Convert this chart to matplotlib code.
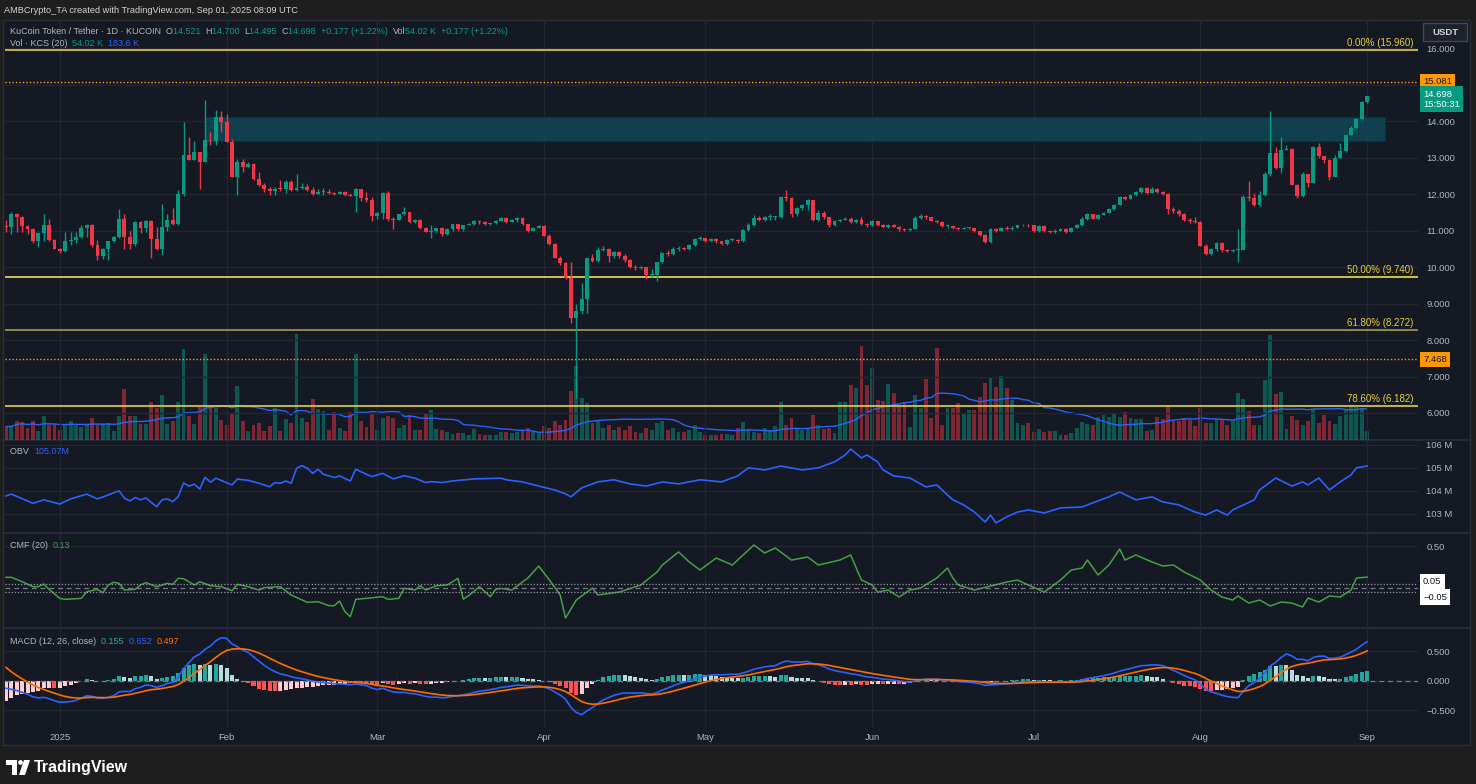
import numpy as np
import pandas as pd
import matplotlib
matplotlib.use('Agg')
import matplotlib.pyplot as plt
import matplotlib.dates as mdates
from matplotlib.patches import Rectangle, Polygon, Circle

plt.rcParams['font.family'] = ['Liberation Sans', 'DejaVu Sans']

# ---------------- data ----------------
dates = pd.date_range('2024-12-22', '2025-09-01', freq='D')
first_open = 11.12
closes = [
    11.10, 11.45, 11.36, 11.13, 11.04, 10.72, 10.92, 11.16, 10.75, 10.50,
    10.44, 10.72, 10.74, 10.81, 11.07, 11.16, 10.60, 10.31, 10.49, 10.71,
    10.81, 11.33, 10.81, 10.63, 11.23, 11.07, 11.27, 10.78, 10.49, 11.09,
    11.29, 11.18, 12.00, 13.07, 12.93, 13.14, 12.87, 13.48, 13.46, 14.12,
    13.98, 13.43, 12.48, 12.87, 12.75, 12.82, 12.40, 12.25, 12.13, 12.09,
    12.15, 12.13, 12.32, 12.11, 12.17, 12.19, 12.11, 12.00, 12.07, 12.07,
    12.03, 12.00, 12.06, 11.98, 11.96, 12.14, 11.90, 11.84, 11.40, 11.49,
    12.02, 11.31, 11.30, 11.45, 11.50, 11.24, 11.30, 11.07, 10.97, 10.98,
    11.06, 10.90, 11.03, 11.17, 11.03, 11.15, 11.17, 11.27, 11.24, 11.17,
    11.21, 11.26, 11.34, 11.23, 11.30, 11.34, 11.17, 11.00, 11.08, 11.13,
    10.86, 10.63, 10.26, 10.10, 9.69, 8.60, 8.80, 9.12, 10.24, 10.17,
    10.46, 10.50, 10.29, 10.40, 10.29, 10.19, 10.00, 9.97, 10.00, 9.78,
    9.78, 10.13, 10.38, 10.36, 10.50, 10.52, 10.49, 10.60, 10.76, 10.79,
    10.72, 10.77, 10.70, 10.64, 10.74, 10.75, 10.70, 11.02, 11.15, 11.35,
    11.28, 11.36, 11.37, 11.38, 11.91, 11.90, 11.44, 11.62, 11.70, 11.84,
    11.29, 11.49, 11.36, 11.15, 11.26, 11.30, 11.33, 11.24, 11.30, 11.18,
    11.14, 11.25, 11.15, 11.10, 11.16, 11.11, 11.03, 11.02, 11.05, 11.35,
    11.40, 11.36, 11.27, 11.23, 11.12, 11.13, 11.08, 11.05, 11.07, 11.07,
    10.98, 10.88, 10.68, 11.05, 10.99, 11.07, 11.04, 11.08, 11.14, 11.15,
    11.14, 10.99, 11.13, 10.99, 10.95, 11.00, 11.05, 10.96, 11.08, 11.15,
    11.33, 11.44, 11.33, 11.43, 11.49, 11.59, 11.71, 11.91, 11.87, 11.98,
    12.06, 12.16, 12.03, 12.14, 12.06, 12.00, 11.59, 11.54, 11.45, 11.29,
    11.27, 11.24, 10.58, 10.36, 10.49, 10.66, 10.46, 10.44, 10.46, 10.48,
    11.93, 11.90, 11.70, 11.97, 12.55, 13.12, 12.72, 13.21, 13.24, 12.25,
    11.94, 12.54, 12.31, 13.30, 13.04, 12.93, 12.48, 12.98, 13.18, 13.62,
    13.82, 14.07, 14.521, 14.698,
]
highs = [
    11.28, 11.52, 11.48, 11.40, 11.15, 11.06, 10.97, 11.45, 11.33, 10.78,
    10.52, 10.97, 10.97, 10.97, 11.15, 11.17, 11.18, 10.74, 10.52, 10.72,
    10.85, 11.60, 11.45, 11.00, 11.25, 11.25, 11.29, 11.29, 11.09, 11.73,
    11.45, 11.61, 12.11, 13.98, 13.57, 13.46, 13.15, 14.58, 13.71, 14.30,
    14.28, 14.19, 13.52, 12.95, 12.95, 12.87, 12.86, 12.61, 12.29, 12.20,
    12.18, 12.38, 12.38, 12.38, 12.55, 12.29, 12.27, 12.20, 12.14, 12.17,
    12.14, 12.06, 12.08, 12.08, 12.02, 12.17, 12.14, 12.07, 11.93, 11.52,
    12.06, 12.09, 11.38, 11.46, 11.64, 11.52, 11.32, 11.32, 11.10, 11.14,
    11.08, 11.09, 11.06, 11.18, 11.19, 11.16, 11.20, 11.29, 11.29, 11.26,
    11.22, 11.28, 11.37, 11.36, 11.33, 11.36, 11.36, 11.19, 11.11, 11.16,
    11.15, 10.90, 10.67, 10.30, 10.14, 10.13, 9.00, 9.55, 10.24, 10.37,
    10.56, 10.58, 10.51, 10.45, 10.44, 10.35, 10.22, 10.05, 10.02, 10.01,
    9.95, 10.15, 10.40, 10.48, 10.55, 10.58, 10.56, 10.63, 10.80, 10.84,
    10.80, 10.80, 10.79, 10.72, 10.76, 10.79, 10.77, 11.04, 11.20, 11.42,
    11.41, 11.41, 11.44, 11.40, 11.95, 12.10, 11.92, 11.65, 11.73, 11.86,
    11.85, 11.55, 11.53, 11.38, 11.28, 11.32, 11.36, 11.38, 11.32, 11.37,
    11.20, 11.28, 11.27, 11.17, 11.18, 11.19, 11.12, 11.06, 11.07, 11.39,
    11.45, 11.43, 11.38, 11.29, 11.25, 11.17, 11.15, 11.10, 11.09, 11.09,
    11.08, 11.00, 10.90, 11.07, 11.06, 11.09, 11.12, 11.12, 11.16, 11.18,
    11.17, 11.16, 11.15, 11.14, 11.01, 11.03, 11.08, 11.07, 11.10, 11.17,
    11.36, 11.47, 11.46, 11.46, 11.52, 11.62, 11.74, 11.95, 11.96, 12.01,
    12.09, 12.20, 12.20, 12.18, 12.16, 12.08, 12.02, 11.65, 11.60, 11.48,
    11.35, 11.36, 11.25, 10.62, 10.52, 10.69, 10.68, 10.49, 10.50, 11.03,
    11.98, 12.35, 12.02, 12.08, 12.60, 14.28, 13.28, 13.57, 13.34, 13.26,
    12.28, 12.60, 12.56, 13.33, 13.40, 13.00, 12.96, 13.08, 13.40, 13.63,
    13.86, 14.08, 14.54, 14.70,
]
lows = [
    10.97, 10.91, 10.96, 10.97, 10.91, 10.67, 10.56, 10.72, 10.70, 10.50,
    10.38, 10.42, 10.60, 10.66, 10.79, 10.83, 10.56, 10.18, 10.21, 10.20,
    10.68, 10.80, 10.49, 10.49, 10.58, 10.92, 10.97, 10.26, 10.48, 10.34,
    10.99, 11.16, 11.16, 11.95, 12.92, 12.92, 12.14, 12.88, 13.34, 13.34,
    13.70, 13.43, 12.47, 11.97, 12.61, 12.73, 12.38, 12.23, 12.07, 11.97,
    11.97, 12.08, 12.04, 12.08, 12.08, 12.15, 12.08, 11.97, 12.00, 11.97,
    12.00, 11.98, 11.99, 11.95, 11.94, 11.52, 11.82, 11.79, 11.26, 11.33,
    11.33, 11.27, 11.05, 11.29, 11.43, 11.22, 11.22, 11.05, 10.95, 10.79,
    10.95, 10.84, 10.89, 11.00, 11.00, 11.00, 11.14, 11.14, 11.19, 11.15,
    11.15, 11.19, 11.25, 11.21, 11.23, 11.24, 11.14, 10.97, 10.98, 11.06,
    10.84, 10.60, 10.24, 10.05, 9.66, 8.46, 6.40, 8.70, 8.73, 10.15,
    10.15, 10.44, 10.14, 10.26, 10.25, 10.15, 9.97, 9.92, 9.95, 9.68,
    9.72, 9.63, 10.10, 10.30, 10.33, 10.45, 10.46, 10.46, 10.58, 10.74,
    10.68, 10.70, 10.66, 10.60, 10.60, 10.71, 10.67, 10.68, 11.00, 11.12,
    11.25, 11.26, 11.30, 11.29, 11.35, 11.80, 11.38, 11.40, 11.56, 11.56,
    11.27, 11.27, 11.33, 11.11, 11.12, 11.23, 11.29, 11.21, 11.22, 11.16,
    11.10, 11.12, 11.13, 11.06, 11.08, 11.09, 11.00, 10.99, 10.98, 11.04,
    11.32, 11.33, 11.25, 11.20, 11.10, 11.08, 11.05, 11.02, 11.04, 11.05,
    10.96, 10.86, 10.66, 10.65, 10.95, 10.98, 11.01, 11.02, 11.06, 11.12,
    11.11, 10.97, 10.96, 10.96, 10.93, 10.93, 10.98, 10.94, 10.95, 11.06,
    11.13, 11.30, 11.31, 11.32, 11.42, 11.48, 11.57, 11.69, 11.83, 11.86,
    11.95, 12.04, 12.01, 12.02, 12.03, 11.97, 11.46, 11.49, 11.40, 11.27,
    11.22, 11.20, 10.57, 10.32, 10.34, 10.45, 10.42, 10.40, 10.42, 10.15,
    10.46, 11.80, 11.68, 11.68, 11.95, 12.50, 12.70, 12.57, 13.20, 12.24,
    11.88, 11.92, 12.20, 12.30, 12.99, 12.85, 12.38, 12.46, 13.00, 13.14,
    13.62, 13.78, 14.02, 14.495,
]
# daily volume, thousands
volumes = [
    79, 83, 115, 109, 73, 115, 53, 142, 87, 91,
    59, 91, 115, 91, 79, 91, 128, 87, 93, 99,
    51, 142, 302, 142, 142, 95, 95, 225, 187, 266,
    95, 113, 225, 538, 142, 95, 193, 507, 201, 187,
    118, 91, 160, 322, 113, 55, 87, 99, 55, 83,
    187, 55, 122, 99, 627, 128, 107, 240, 181, 173,
    59, 163, 69, 55, 163, 507, 111, 77, 152, 59,
    128, 142, 130, 69, 89, 148, 59, 59, 156, 176,
    65, 59, 49, 36, 40, 40, 32, 65, 36, 32,
    28, 28, 49, 45, 40, 50, 60, 70, 45, 40,
    80, 70, 110, 90, 120, 290, 440, 250, 220, 100,
    110, 70, 90, 60, 75, 60, 80, 50, 40, 70,
    60, 100, 110, 60, 70, 50, 45, 60, 90, 49,
    30, 30, 30, 35, 35, 30, 70, 108, 63, 49,
    39, 69, 59, 80, 227, 89, 128, 63, 59, 70,
    146, 89, 65, 69, 39, 223, 223, 325, 305, 555,
    325, 428, 237, 233, 331, 281, 197, 227, 79, 266,
    187, 361, 128, 547, 89, 187, 187, 217, 154, 178,
    178, 253, 335, 365, 311, 379, 305, 237, 99, 89,
    103, 49, 63, 49, 53, 53, 30, 30, 39, 69,
    108, 95, 89, 134, 148, 138, 162, 134, 168, 128,
    126, 122, 55, 59, 138, 122, 207, 114, 114, 128,
    118, 85, 187, 99, 99, 122, 122, 89, 118, 281,
    240, 174, 89, 89, 355, 624, 272, 284, 63, 142,
    118, 89, 114, 185, 99, 146, 114, 95, 142, 183,
    207, 197, 187, 54,
]

# OBV (millions) read at day offsets from the first candle
obv_day = [0, 1, 5, 7, 10, 12, 15, 17, 21, 22, 23, 24, 25, 26, 28, 29, 30, 31, 32, 33,
           34, 35, 36, 37, 38, 39, 42, 43, 45, 47, 49, 50, 51, 52, 53, 54, 55, 56, 57, 58,
           59, 61, 62, 64, 65, 67, 68, 70, 72, 74, 76, 78, 79, 81, 83, 87, 92, 93, 96, 99,
           102, 104, 105, 107, 109, 110, 113, 116, 119, 122, 125, 129, 133, 136, 138, 141, 144, 148, 151, 154,
           156, 157, 159, 160, 162, 163, 165, 168, 171, 173, 175, 176, 178, 180, 182, 183, 184, 186, 188, 190,
           193, 196, 200, 202, 205, 207, 210, 213, 215, 218, 221, 223, 225, 227, 228, 230, 232, 233, 235, 236,
           239, 241, 242, 244, 246, 248, 250, 251, 253]
obv_val = [103.77, 103.85, 103.45, 103.60, 103.42, 103.64, 103.85, 103.64, 103.99, 103.68,
           103.55, 103.70, 103.60, 103.68, 103.30, 103.60, 103.64, 103.52, 103.74, 104.33,
           104.20, 104.28, 104.07, 104.58, 104.36, 104.54, 104.25, 104.50, 104.45, 104.32,
           104.17, 104.35, 104.32, 104.42, 104.32, 104.97, 105.09, 104.97, 104.75, 104.93,
           104.71, 104.57, 104.64, 104.42, 104.93, 104.71, 104.61, 104.75, 104.51, 104.65,
           104.54, 104.35, 104.39, 104.35, 104.42, 104.51, 104.54, 104.47, 104.38, 104.20,
           104.03, 103.86, 103.73, 104.12, 104.29, 104.38, 104.47, 104.29, 104.20, 104.38,
           104.29, 104.47, 104.38, 104.64, 104.99, 104.90, 105.07, 104.90, 104.99, 105.25,
           105.55, 105.81, 105.42, 105.55, 105.25, 104.90, 104.64, 104.55, 104.16, 104.25,
           103.81, 103.60, 103.38, 103.07, 102.64, 102.94, 102.60, 102.86, 103.07, 103.16,
           103.03, 103.25, 103.29, 103.47, 103.73, 103.94, 103.60, 103.73, 103.51, 103.38,
           103.07, 102.94, 103.16, 102.94, 103.16, 103.38, 103.60, 104.03, 104.38, 104.55,
           104.20, 104.38, 104.25, 104.55, 104.03, 104.38, 104.68, 104.99, 105.07]

# CMF(20) read at day offsets
cmf_day = [0, 1, 3, 5, 6, 7, 8, 10, 11, 14, 15, 17, 18, 19, 20, 21, 22, 24, 25, 26,
           28, 30, 31, 32, 33, 35, 36, 38, 40, 42, 43, 45, 47, 48, 51, 53, 56, 58, 60, 61,
           62, 63, 64, 65, 67, 70, 71, 73, 74, 76, 77, 78, 80, 82, 84, 85, 86, 88, 90, 91,
           92, 94, 97, 99, 101, 103, 104, 106, 109, 110, 114, 118, 121, 122, 125, 127, 129, 132, 135, 137,
           139, 141, 143, 146, 149, 151, 155, 157, 159, 161, 162, 164, 166, 168, 170, 173, 175, 176, 177, 180,
           183, 186, 188, 190, 193, 196, 198, 200, 201, 203, 205, 207, 208, 210, 213, 215, 217, 219, 222, 224,
           226, 228, 229, 231, 233, 235, 237, 239, 241, 242, 244, 246, 248, 250, 251, 253]
cmf_val = [0.127, 0.127, 0.075, 0.016, 0.016, 0.048, -0.016, -0.123, -0.135, -0.123,
           -0.044, -0.016, -0.056, 0.036, 0.068, 0.056, -0.024, -0.016, 0.036, 0.064,
           0.016, 0.056, 0.044, 0.115, 0.111, 0.036, 0.075, 0.028, 0.016, -0.032,
           0.044, 0.016, -0.024, 0.004, 0.016, -0.083, -0.171, -0.163, -0.210, -0.210,
           -0.155, -0.282, -0.341, -0.135, -0.123, -0.103, -0.135, -0.123, -0.004, -0.024,
           0.028, -0.024, 0.028, 0.036, 0.115, -0.131, -0.091, 0.016, -0.103, -0.016,
           -0.004, -0.024, 0.119, 0.262, 0.095, -0.083, -0.357, -0.143, 0.000, -0.083,
           -0.048, 0.036, 0.190, 0.274, 0.429, 0.310, 0.214, 0.357, 0.274, 0.393,
           0.512, 0.417, 0.476, 0.333, 0.369, 0.274, 0.333, 0.393, 0.095, 0.036,
           -0.048, -0.024, -0.107, -0.024, 0.000, 0.119, 0.238, 0.119, 0.036, -0.024,
           0.024, 0.071, 0.095, 0.036, -0.048, 0.095, 0.214, 0.238, 0.333, 0.155,
           0.274, 0.464, 0.333, 0.393, 0.310, 0.262, 0.274, 0.190, 0.095, -0.024,
           -0.107, -0.143, -0.095, -0.179, -0.143, -0.214, -0.167, -0.179, -0.226, -0.119,
           -0.167, -0.095, -0.107, -0.024, 0.119, 0.130]

macd_seed = {'fast': 11.93, 'slow': 12.00, 'signal': 0.31}

fib_levels = [15.960, 9.740, 8.272, 6.182]
fib_labels = ['0.00% (15.960)', '50.00% (9.740)', '61.80% (8.272)', '78.60% (6.182)']
fib_colors = ['#e3cf48', '#eedc55', '#a59c48', '#e3cf48']
alert_levels = [15.081, 7.468]
zone_start, zone_end = '2025-01-28', '2025-09-04 12:00'
zone_low, zone_high = 13.42, 14.11

month_ticks = pd.to_datetime(['2025-01-01', '2025-02-01', '2025-03-01', '2025-04-01', '2025-05-01',
                              '2025-06-01', '2025-07-01', '2025-08-01', '2025-09-01'])
month_labels = ['2025', 'Feb', 'Mar', 'Apr', 'May', 'Jun', 'Jul', 'Aug', 'Sep']
price_ticks = [6, 7, 8, 9, 10, 11, 12, 13, 14, 15, 16]

# ---------------- colours ----------------
UP, DN = '#089981', '#f23645'
BLUE, ORANGE, GREEN = '#2962ff', '#ff6d00', '#43a047'
TXT = '#b2b5be'
PANE = '#151924'
GRID = '#222631'
SEP = '#2a2e39'

# ---------------- figure / layout (pixel boxes) ----------------
W, H = 1476, 784
fig = plt.figure(figsize=(W / 100, H / 100), dpi=100, facecolor='#1e1e1e')


def box(x0, y0, x1, y1):
    return [x0 / W, 1 - y1 / H, (x1 - x0) / W, (y1 - y0) / H]


bg = fig.add_axes([0, 0, 1, 1])
bg.set_xlim(0, W)
bg.set_ylim(H, 0)
bg.axis('off')
bg.set_zorder(-10)
bg.add_patch(Rectangle((3, 20), 1467, 725, facecolor=PANE, edgecolor=SEP, lw=1))
for yy in (440, 533, 628):
    bg.plot([3, 1470], [yy, yy], color=SEP, lw=1.2)

ax_p = fig.add_axes(box(5, 20, 1418, 440))
ax_v = ax_p.twinx()
ax_o = fig.add_axes(box(5, 440, 1418, 533))
ax_c = fig.add_axes(box(5, 533, 1418, 628))
ax_m = fig.add_axes(box(5, 628, 1418, 727))

xd = mdates.date2num(dates)
xlim = (xd[0] - 0.19, xd[0] + 262.45)
mt = mdates.date2num(month_ticks)

for ax in (ax_p, ax_v, ax_o, ax_c, ax_m):
    ax.set_facecolor('none')
    ax.patch.set_visible(False)
    for s in ax.spines.values():
        s.set_visible(False)
    ax.set_xlim(xlim)
    ax.set_xticks(mt)
    ax.tick_params(axis='both', length=0, colors=TXT, labelsize=6.8)
for ax in (ax_p, ax_o, ax_c, ax_m):
    ax.grid(True, color=GRID, lw=1)
    ax.set_axisbelow(True)
for ax in (ax_p, ax_v, ax_o, ax_c):
    ax.set_xticklabels([])
ax_m.set_xticklabels(month_labels)
ax_m.tick_params(axis='x', pad=4)

ax_p.set_zorder(3)
ax_v.set_zorder(2)
ax_v.set_yticks([])
ax_v.grid(False)

# ---------------- price pane ----------------
c = np.array(closes)
o = np.r_[first_open, c[:-1]]
hi = np.maximum(np.array(highs), np.maximum(o, c))
lo = np.minimum(np.array(lows), np.minimum(o, c))
cols = np.where(c >= o, UP, DN)

ax_p.set_ylim(5.26, 16.77)
ax_p.yaxis.tick_right()
ax_p.set_yticks(price_ticks)
ax_p.set_yticklabels(['' if v == 15 else f'{v:.3f}' for v in price_ticks])
ax_p.tick_params(axis='y', pad=6)

zx0, zx1 = mdates.date2num(pd.Timestamp(zone_start)), mdates.date2num(pd.Timestamp(zone_end))
ax_p.add_patch(Rectangle((zx0, zone_low), zx1 - zx0, zone_high - zone_low,
                         facecolor='#0f4c5c', alpha=0.75, edgecolor='#0a2730', lw=1.2, zorder=2))

for lv, lab, col in zip(fib_levels, fib_labels, fib_colors):
    ax_p.axhline(lv, color=col, lw=1.2, zorder=2)
    ax_p.annotate(lab, xy=(0.997, lv), xycoords=ax_p.get_yaxis_transform(), xytext=(0, 2),
                  textcoords='offset pixels', ha='right', va='bottom', color='#e6cf3c', fontsize=7)
for lv in alert_levels:
    ax_p.axhline(lv, color='#f5a020', lw=1, ls=(0, (1, 1.5)), zorder=2)

ax_p.vlines(xd, lo, hi, colors=cols, lw=1, zorder=4)
ax_p.bar(xd, np.maximum(np.abs(c - o), 0.025), bottom=np.minimum(o, c), width=0.72,
         color=cols, lw=0, zorder=5)

# volume overlay
vol = np.array(volumes, dtype=float)
vol_ma = pd.Series(vol).rolling(20, min_periods=1).mean()
ax_v.bar(xd, vol, width=0.72, color=cols, alpha=0.48, lw=0)
ax_v.plot(xd, vol_ma, color=BLUE, lw=1.0)
ax_v.set_ylim(0, 2486)


def axis_tag(ax, value, text, fc, tc, dy=0, va='center'):
    ax.annotate(text, xy=(1, value), xycoords=ax.get_yaxis_transform(), xytext=(5, dy),
                textcoords='offset pixels', ha='left', va=va, color=tc, fontsize=6.8,
                bbox=dict(boxstyle='square,pad=0.35', fc=fc, ec='none'), annotation_clip=False, zorder=10)


axis_tag(ax_p, alert_levels[0], f'{alert_levels[0]:.3f}', '#ff9800', '#131722')
axis_tag(ax_p, alert_levels[1], f'{alert_levels[1]:.3f}', '#ff9800', '#131722')
axis_tag(ax_p, closes[-1], f'{closes[-1]:.3f}\n15:50:31', UP, '#ffffff', dy=6, va='top')

# ---------------- OBV ----------------
ax_o.plot(xd[obv_day], obv_val, color=BLUE, lw=1.2)
ax_o.set_ylim(102.16, 106.2)
ax_o.yaxis.tick_right()
ax_o.set_yticks([103, 104, 105, 106])
ax_o.set_yticklabels(['103 M', '104 M', '105 M', '106 M'])
ax_o.tick_params(axis='y', pad=6)

# ---------------- CMF ----------------
ax_c.plot(xd[cmf_day], cmf_val, color=GREEN, lw=1.1)
ax_c.axhline(0.05, color='#9598a1', lw=0.9, ls=(0, (1, 1.5)))
ax_c.axhline(-0.05, color='#9598a1', lw=0.9, ls=(0, (1, 1.5)))
ax_c.axhline(0, color='#787b86', lw=0.9, ls=(0, (4, 3)))
ax_c.set_ylim(-0.476, 0.655)
ax_c.yaxis.tick_right()
ax_c.set_yticks([0.5])
ax_c.set_yticklabels(['0.50'])
ax_c.tick_params(axis='y', pad=6)
axis_tag(ax_c, 0.05, '0.05', '#ffffff', '#131722', dy=2)
axis_tag(ax_c, -0.05, '\u22120.05', '#ffffff', '#131722', dy=-5)

# ---------------- MACD ----------------
f, s, g = macd_seed['fast'], macd_seed['slow'], macd_seed['signal']
macd, sig = [], []
for px in closes:
    f += (px - f) * 2 / 13
    s += (px - s) * 2 / 27
    m = f - s
    g += (m - g) * 2 / 10
    macd.append(m)
    sig.append(g)
macd, sig = np.array(macd), np.array(sig)
hist = macd - sig
prev = np.r_[hist[0], hist[:-1]]
hcol = np.where(hist >= 0, np.where(hist >= prev, '#26a69a', '#b2dfdb'),
                np.where(hist >= prev, '#ffcdd2', '#ff5252'))
ax_m.bar(xd, hist, width=0.75, color=hcol, lw=0)
ax_m.plot(xd, macd, color=BLUE, lw=1.2)
ax_m.plot(xd, sig, color=ORANGE, lw=1.2)
ax_m.axhline(0, color='#787b86', lw=0.9, ls=(0, (4, 3)))
ax_m.set_ylim(-0.788, 0.89)
ax_m.yaxis.tick_right()
ax_m.set_yticks([-0.5, 0, 0.5])
ax_m.set_yticklabels(['\u22120.500', '0.000', '0.500'])
ax_m.tick_params(axis='y', pad=6)

# ---------------- legends / header ----------------
renderer = fig.canvas.get_renderer()


def seq_text(x, y, parts, size=6.5):
    for txt, col in parts:
        t = fig.text(x / W, 1 - y / H, txt, color=col, fontsize=size, ha='left', va='center')
        x += t.get_window_extent(renderer).width


fig.text(4 / W, 1 - 10.5 / H, 'AMBCrypto_TA created with TradingView.com, Sep 01, 2025 08:09 UTC',
         color='#d1d4dc', fontsize=6.6, ha='left', va='center')

seq_text(10, 31, [('KuCoin Token / Tether \u00b7 1D \u00b7 KUCOIN  ', TXT), ('O', TXT), ('14.521  ', UP),
                  ('H', TXT), ('14.700  ', UP), ('L', TXT), ('14.495  ', UP), ('C', TXT), ('14.698  ', UP),
                  ('+0.177 (+1.22%)  ', UP), ('Vol', TXT), ('54.02 K  ', UP), ('+0.177 (+1.22%)', UP)])
seq_text(10, 44, [('Vol \u00b7 KCS (20)  ', TXT), ('54.02 K  ', UP), ('183.6 K', BLUE)])
seq_text(10, 452, [('OBV  ', TXT), ('105.07M', BLUE)])
seq_text(10, 546, [('CMF (20)  ', TXT), ('0.13', GREEN)])
seq_text(10, 641, [('MACD (12, 26, close)  ', TXT), ('0.155  ', '#26a69a'), ('0.652  ', BLUE),
                   ('0.497', ORANGE)])

# currency box
bg.add_patch(Rectangle((1423, 23), 44, 18, facecolor='#1e222d', edgecolor='#434651', lw=1, zorder=5))
bg.text(1445, 32, 'USDT', color='#d1d4dc', fontsize=6.8, ha='center', va='center',
        fontweight='bold', zorder=6)

# TradingView footer
bg.add_patch(Polygon([(6, 760), (17, 760), (17, 775), (12, 775), (12, 765), (6, 765)],
                     closed=True, facecolor='white', lw=0))
bg.add_patch(Circle((20.5, 762.5), 2.4, facecolor='white', lw=0))
bg.add_patch(Polygon([(24, 760), (30, 760), (25, 775), (19, 775)], closed=True, facecolor='white', lw=0))
bg.text(34, 767.5, 'TradingView', color='white', fontsize=11.5, fontweight='bold', ha='left', va='center')

fig.savefig('out.png', dpi=100, facecolor=fig.get_facecolor())
